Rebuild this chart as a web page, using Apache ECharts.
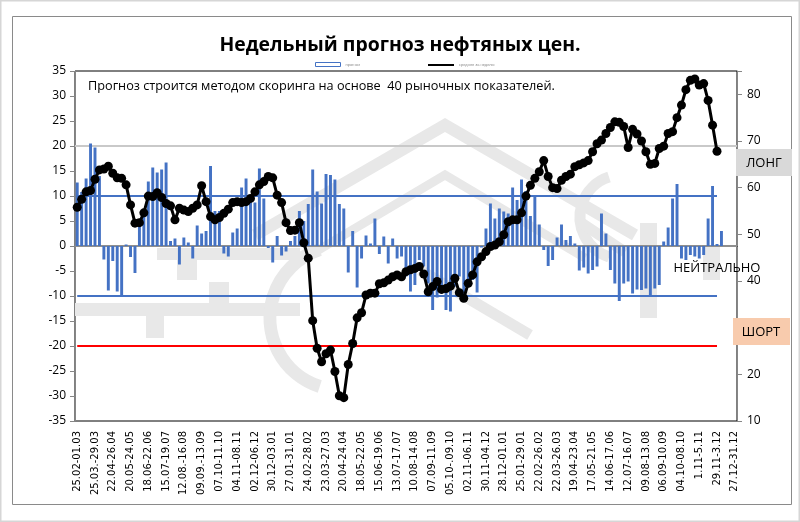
<!DOCTYPE html>
<html>
<head>
<meta charset="utf-8">
<script src="https://cdn.jsdelivr.net/npm/echarts@6/dist/echarts.min.js"></script>
<style>
html, body { margin: 0; padding: 0; background: #fff; }
#main { width: 800px; height: 522px; }
</style>
</head>
<body>
<div id="main"></div>
<script type="text/javascript">
// подписи оси X: каждая четвёртая неделя
var tickLabels = ['25.02-01.03', '25.03.-29.03', '22.04-26.04', '20.05-24.05', '18.06-22.06',
  '15.07-19.07', '12.08.-16.08', '09.09.-13.09', '07.10-11.10', '04.11-08.11', '02.12-06.12',
  '30.12-03.01', '27.01-31.01', '24.02-28.02', '23.03-27.03', '20.04-24.04', '18.05-22.05',
  '15.06-19.06', '13.07-17.07', '10.08-14.08', '07.09-11.09', '05.10-.09.10', '02.11-06.11',
  '30.11-04.12', '28.12-01.01', '25.01-29.01', '22.02-26.02', '22.03-26.03', '19.04-23.04',
  '17.05-21.05', '14.06-17.06', '12.07-16.07', '09.08-13.08', '06.09-10.09', '04.10-08.10',
  '1.11-5.11', '29.11-3.12', '27.12-31.12'];
var weekCount = 149;

// прогноз (левая ось)
var forecast = [12.7, 10.8, 13.5, 20.5, 19.7, 14, -2.7, -8.9, -3, -9.1,
  -9.9, 0.3, -2.2, -5.4, 5, 7, 12.9, 15.7, 14.7, 15.3,
  16.7, 1.0, 1.5, -3.7, 1.7, 0.7, -2.5, 4.1, 2.5, 3,
  16, 7, 7, -1.5, -2.1, 2.7, 3.5, 11.7, 13.5, 9,
  8.7, 15.5, 9.5, -0.4, -3.3, 2, -1.9, -1.1, 1.0, 2,
  7, 5, 8.4, 15.3, 10.9, 8.5, 14.4, 14.2, 13.3, 8.4,
  7.5, -5.3, 3, -8.3, -2.5, 2.1, 0.5, 5.5, -1.6, 1.9,
  -3.5, 1.5, -2.5, -2.1, -6.1, -9.1, -7.8, -2.8, -4.1, -7.5,
  -12.8, -10.3, -9.5, -12.8, -13.1, -8.1, -6.1, -10.3, -8.1, -6.8,
  -9.3, -0.3, 3.5, 8.5, 5.5, 7.5, 6.9, 6.5, 11.7, 9.2,
  13.3, 11, 6, 10, 4.3, -0.8, -4, -2.8, 1.7, 4.3,
  1.2, 2, 0.5, -4.9, -4.3, -5.5, -4.8, -4.1, 6.5, 2.5,
  -4.8, -7.5, -11, -7.5, -7.1, -9.5, -8.7, -8.8, -8.5, -10.1,
  -8.5, -7.8, 0.9, 3.7, 9.5, 12.4, -2.5, -2.8, -1.8, -2.1,
  -2.5, -1.8, 5.5, 12, 0.4, 3];

// средняя цена за неделю (правая ось)
var average = [55.8, 57.5, 59.1, 59.4, 61.8, 63.8, 64.0, 64.6, 63.1, 62.1,
  62.0, 60.6, 56.3, 52.4, 52.5, 54.6, 58.2, 58.1, 58.9, 57.9,
  56.6, 56.1, 53.1, 55.6, 55.2, 54.9, 55.6, 56.3, 60.4, 57.0,
  53.8, 53.1, 53.6, 54.5, 55.4, 56.8, 57.0, 56.8, 57.0, 57.7,
  59.1, 60.6, 61.3, 62.4, 62.1, 58.4, 56.8, 52.5, 50.8, 50.9,
  52.5, 48.2, 44.9, 31.5, 25.6, 22.7, 24.4, 25.2, 20.6, 15.4,
  15.0, 22.1, 26.6, 32.1, 33.2, 37.0, 37.4, 37.4, 39.4, 39.6,
  40.2, 40.9, 41.3, 40.9, 42.0, 42.4, 42.7, 43.1, 41.5, 37.7,
  38.8, 39.9, 38.2, 38.4, 38.9, 40.6, 37.5, 36.3, 39.5, 41.3,
  44.1, 45.2, 46.3, 47.4, 47.7, 48.4, 49.9, 52.7, 53.1, 53.1,
  54.6, 58.2, 60.5, 62.0, 63.4, 65.8, 62.4, 60.0, 59.8, 61.6,
  62.4, 62.9, 64.5, 64.9, 65.3, 65.8, 67.7, 69.4, 70.2, 71.6,
  72.9, 74.1, 74.0, 73.1, 68.6, 72.5, 71.5, 70.0, 67.7, 65.0,
  65.2, 68.4, 68.9, 71.6, 72.0, 75.0, 77.7, 81.0, 83.0, 83.3,
  82.0, 82.3, 78.7, 73.4, 67.8];

// уровни
var grayLevels = [0, 20];
var bandLevels = [10, -10];
var shortLevel = -20;
var levelEnd = 144; // последняя неделя, до которой идут уровни

var categories = [];
for (var i = 0; i < weekCount; i++) {
  categories.push(i % 4 === 0 ? tickLabels[i / 4] : '');
}

var markData = [];
markData.push({ yAxis: grayLevels[0], lineStyle: { color: '#8f8f8f', width: 2 } });
markData.push({ yAxis: grayLevels[1], lineStyle: { color: '#c9c9c9', width: 2 } });
bandLevels.forEach(function (v) {
  markData.push([{ coord: [0, v], lineStyle: { color: '#4472C4', width: 2 } }, { coord: [levelEnd, v] }]);
});
markData.push([{ coord: [0, shortLevel], lineStyle: { color: '#ff0000', width: 2 } }, { coord: [levelEnd, shortLevel] }]);

// водяной знак
var wm = '#e8e8e8';
var watermark = [
  { type: 'rect', shape: { x: 75, y: 303, width: 225, height: 13 } },
  { type: 'rect', shape: { x: 157, y: 248, width: 143, height: 12 } },
  { type: 'rect', shape: { x: 177, y: 260, width: 20, height: 20 } },
  { type: 'rect', shape: { x: 209, y: 282, width: 20, height: 21 } },
  { type: 'rect', shape: { x: 146, y: 316, width: 18, height: 22 } },
  { type: 'rect', shape: { x: 640, y: 223, width: 17, height: 95 } },
  { type: 'rect', shape: { x: 703, y: 247, width: 17, height: 33 } },
  { type: 'arc', shape: { cx: 342, cy: 318, r: 72, startAngle: Math.PI * 0.6, endAngle: Math.PI * 1.4 }, style: { stroke: wm, lineWidth: 13, fill: null } },
  { type: 'arc', shape: { cx: 622, cy: 217, r: 42, startAngle: Math.PI * 0.6, endAngle: Math.PI * 1.4 }, style: { stroke: wm, lineWidth: 11, fill: null } },
  { type: 'polyline', shape: { points: [[255, 235], [445, 125], [635, 235]] }, style: { stroke: wm, lineWidth: 12, fill: null } },
  { type: 'polyline', shape: { points: [[305, 258], [445, 175], [585, 258]] }, style: { stroke: wm, lineWidth: 9, fill: null } },
  { type: 'polyline', shape: { points: [[420, 270], [530, 335]] }, style: { stroke: wm, lineWidth: 11, fill: null } },
  { type: 'polyline', shape: { points: [[580, 222], [625, 252]] }, style: { stroke: wm, lineWidth: 11, fill: null } }
];
watermark.forEach(function (el) {
  el.z = 0.5;
  el.silent = true;
  if (el.type === 'rect') el.style = { fill: wm };
});

var labelFont = '"Open Sans", "DejaVu Sans", sans-serif';
var decorations = [
  { type: 'rect', shape: { x: 0.5, y: 0.5, width: 799, height: 521 }, style: { fill: null, stroke: '#d6d6d6', lineWidth: 2 }, z: 0 },
  { type: 'rect', shape: { x: 12.5, y: 16.5, width: 779, height: 488 }, style: { fill: null, stroke: '#8a8a8a', lineWidth: 1 }, z: 0 },
  { type: 'text', x: 88, y: 86, style: { text: 'Прогноз строится методом скоринга на основе  40 рыночных показателей.', font: '12.7px ' + labelFont, fill: '#000', verticalAlign: 'middle' }, z: 10 },
  { type: 'rect', shape: { x: 736, y: 149, width: 56, height: 27 }, style: { fill: '#d9d9d9' }, z: 10 },
  { type: 'text', x: 764, y: 163, style: { text: 'ЛОНГ', font: '13px ' + labelFont, fill: '#000', align: 'center', verticalAlign: 'middle' }, z: 11 },
  { type: 'text', x: 717, y: 268, style: { text: 'НЕЙТРАЛЬНО', font: '13px ' + labelFont, fill: '#000', align: 'center', verticalAlign: 'middle' }, z: 11 },
  { type: 'rect', shape: { x: 733, y: 318, width: 57, height: 27 }, style: { fill: '#f8cbad' }, z: 10 },
  { type: 'text', x: 761, y: 332, style: { text: 'ШОРТ', font: '13px ' + labelFont, fill: '#000', align: 'center', verticalAlign: 'middle' }, z: 11 }
];

var myChart = echarts.init(document.getElementById('main'));

var option = {
  animation: false,
  backgroundColor: '#fff',
  title: {
    text: 'Недельный прогноз нефтяных цен.',
    left: 'center',
    top: 31,
    textStyle: { fontFamily: labelFont, fontSize: 19.4, fontWeight: 'bold', color: '#000' }
  },
  legend: [{
    left: 310, top: 57, itemWidth: 25, itemHeight: 4,
    textStyle: { fontSize: 4, color: '#8c8c8c' },
    data: [{ name: 'прогноз', icon: 'rect', itemStyle: { color: '#fff', borderColor: '#4472C4', borderWidth: 1 } }]
  }, {
    left: 423, top: 58, itemWidth: 26, itemHeight: 2,
    textStyle: { fontSize: 4, color: '#8c8c8c' },
    data: [{ name: 'средняя за неделю', icon: 'rect', itemStyle: { color: '#000' } }]
  }],
  grid: {
    left: 75, right: 63, top: 71, bottom: 101,
    show: true, borderColor: '#000', borderWidth: 1
  },
  xAxis: {
    type: 'category',
    data: categories,
    boundaryGap: true,
    axisLine: { lineStyle: { color: '#000' } },
    axisTick: { show: false },
    axisLabel: {
      interval: 0, rotate: 90, margin: 10,
      fontFamily: '"DejaVu Sans", sans-serif', fontSize: 10, color: '#000'
    }
  },
  yAxis: [{
    type: 'value', min: -35, max: 35, interval: 5,
    axisLine: { show: true, lineStyle: { color: '#868686' } },
    axisTick: { show: true, length: 5, lineStyle: { color: '#868686' } },
    splitLine: { show: false },
    axisLabel: { margin: 9, fontFamily: labelFont, fontSize: 12, color: '#000' }
  }, {
    type: 'value', min: 10, max: 85, interval: 10,
    axisLine: { show: true, lineStyle: { color: '#868686' } },
    axisTick: { show: true, length: 5, lineStyle: { color: '#868686' } },
    splitLine: { show: false },
    axisLabel: {
      margin: 10, fontFamily: labelFont, fontSize: 12, color: '#000',
      formatter: function (v) { return v > 80 ? '' : v; }
    }
  }],
  graphic: { elements: watermark.concat(decorations) },
  series: [{
    name: 'прогноз',
    type: 'bar',
    yAxisIndex: 0,
    barWidth: '66%',
    itemStyle: { color: '#4472C4' },
    data: forecast,
    markLine: {
      silent: true, symbol: 'none', z: 1,
      label: { show: false },
      lineStyle: { type: 'solid' },
      data: markData
    }
  }, {
    name: 'средняя за неделю',
    type: 'line',
    yAxisIndex: 1,
    data: average,
    symbol: 'circle',
    symbolSize: 9,
    showAllSymbol: true,
    lineStyle: { color: '#000', width: 3 },
    itemStyle: { color: '#000' }
  }]
};

myChart.setOption(option);
</script>
</body>
</html>
